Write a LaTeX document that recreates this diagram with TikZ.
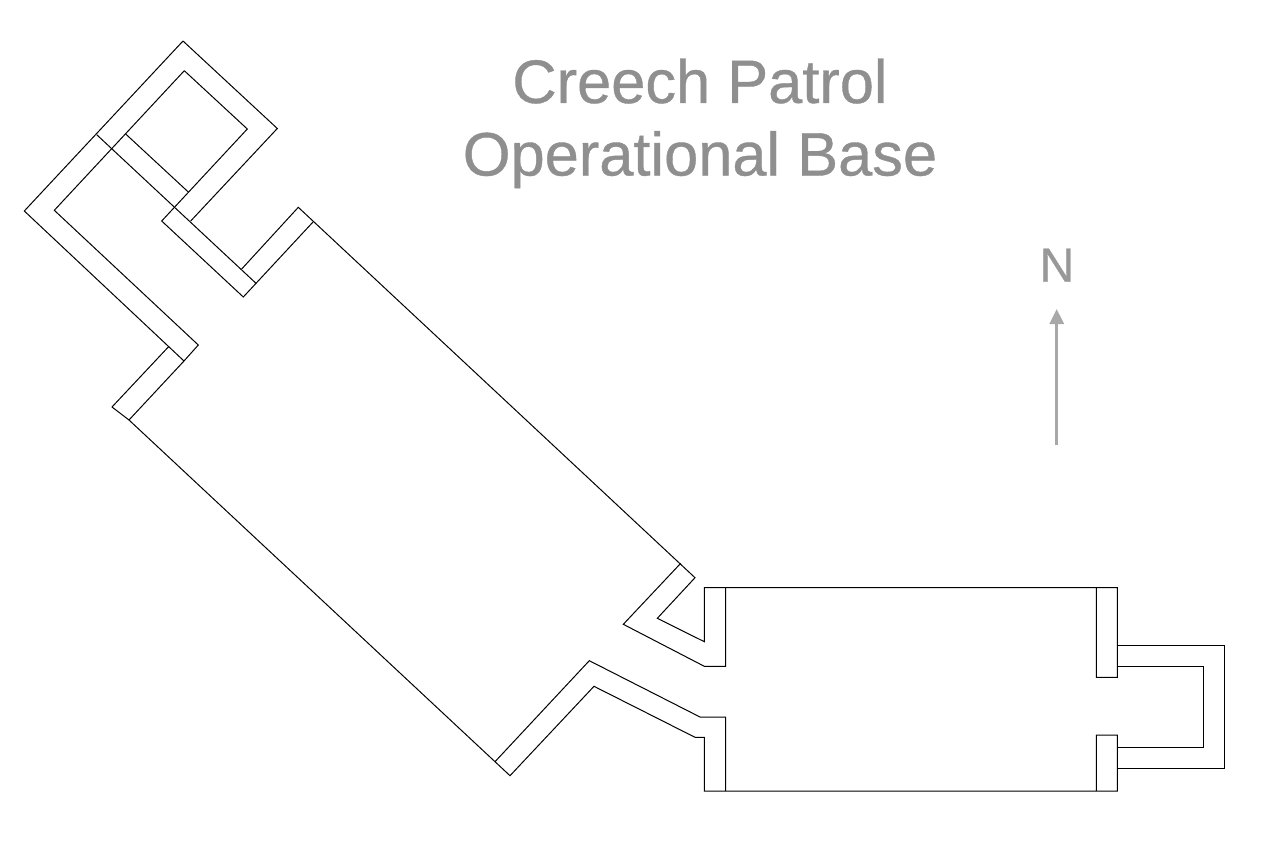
\documentclass[tikz,border=0pt]{standalone}
\usepackage{fontspec}
\setmainfont{Liberation Sans}
\newfontfamily\heavyfont[FakeBold=0.6]{Liberation Sans}
\usetikzlibrary{arrows.meta}
\tikzset{
  wall/.style={draw=black,line width=1pt,line join=miter},
  titletext/.style={anchor=base,text=titlegrey,inner sep=0pt,font=\heavyfont\fontsize{61.4}{72}\selectfont},
  northtext/.style={anchor=base,text=northgrey,inner sep=0pt,font=\heavyfont\fontsize{48}{56}\selectfont},
  northarrow/.style={draw=arrowgrey,line width=3pt,-{Triangle[length=15pt,width=14pt,fill=arrowgrey]}}
}
\definecolor{titlegrey}{HTML}{8F8F8F}
\definecolor{northgrey}{HTML}{989898}
\definecolor{arrowgrey}{HTML}{A8A8A8}
\begin{document}
\begin{tikzpicture}[x=1pt,y=-1pt]
\useasboundingbox (0,0) rectangle (1272,848);
% north-west rooms
\draw[wall] (183,41) -- (277.3,128.5) -- (190.7,221);
\draw[wall] (183,41) -- (24.3,211) -- (184,361) -- (129,420) -- (112,407) -- (168.3,347);
\draw[wall] (184.3,70.7) -- (247.3,129) -- (161.7,221) -- (243.3,297) -- (313.3,221.7);
\draw[wall] (184.3,70.7) -- (54.3,210.3) -- (198.3,345) -- (184,361);
\draw[wall] (96.7,134.7) -- (256,283.3);
\draw[wall] (125.7,134) -- (188.3,192);
\draw[wall] (241.7,269) -- (298.3,207.3) -- (695,577.7) -- (657.3,618.3) -- (704.3,641.7) -- (704.3,587.7) -- (1117.3,587.7) -- (1117.3,677.3) -- (1096.3,677.3) -- (1096.3,587.7);
% main hall lower edge and corridors
\draw[wall] (129,420) -- (510,775.7) -- (594,686.3) -- (695,737.3) -- (704.3,737.3) -- (704.3,791) -- (1117.3,791) -- (1117.3,735) -- (1096.3,735) -- (1096.3,791);
\draw[wall] (495,761.7) -- (589.3,660.7) -- (700,717) -- (725.7,717) -- (725.7,791);
\draw[wall] (680.7,563.3) -- (623.3,624.3) -- (704.3,666.3) -- (725.7,666.3) -- (725.7,587.7);
% east loop
\draw[wall] (1117.3,645.3) -- (1224.3,645.3) -- (1224.3,768.3) -- (1117.3,768.3);
\draw[wall] (1117.3,666.3) -- (1203.3,666.3) -- (1203.3,747.3) -- (1117.3,747.3);
% title
\node[titletext] (titleA) at (700,103) {Creech Patrol};
\node[titletext] (titleB) at (700,175.5) {Operational Base};
% north marker
\node[northtext] (north) at (1057,281.7) {N};
\coordinate (arrowfoot) at (1056.7,445);
\coordinate (arrowtip) at (1056.7,309);
\draw[northarrow] (arrowfoot) -- (arrowtip);
\end{tikzpicture}
\end{document}
